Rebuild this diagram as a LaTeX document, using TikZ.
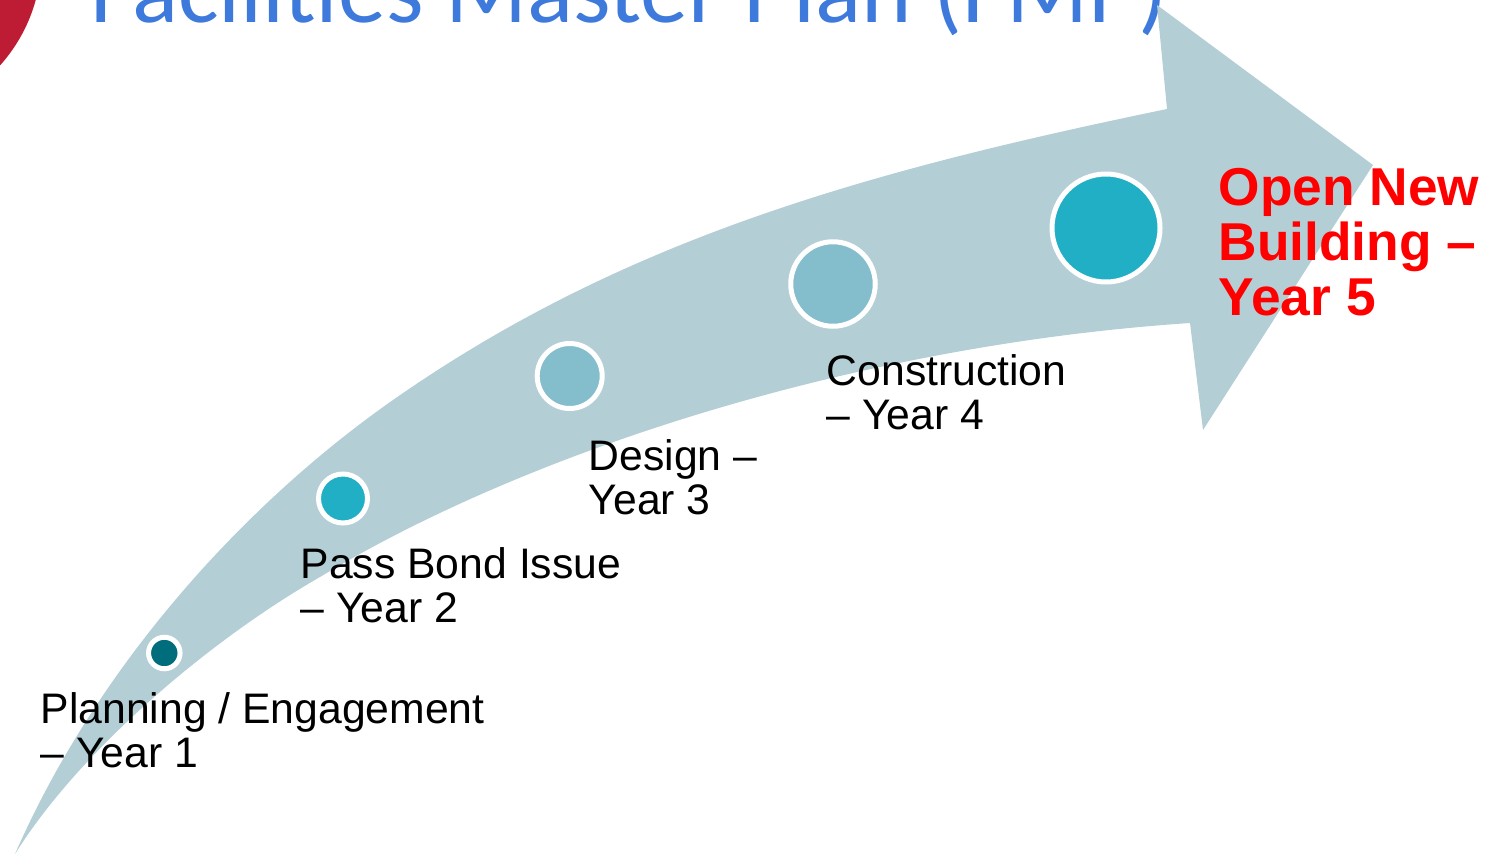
\documentclass[tikz,border=0pt]{standalone}
\usepackage{fontspec}
\setmainfont{Liberation Sans}
\newfontfamily\titlefont{Carlito}
\definecolor{band}{HTML}{B4CED5}
\definecolor{tealdark}{HTML}{006D7C}
\definecolor{tealmid}{HTML}{21AFC6}
\definecolor{teallight}{HTML}{84BDCC}
\definecolor{titleblue}{HTML}{3E7ADB}
\definecolor{crimson}{HTML}{BE1B34}
\tikzset{
  dot/.style={circle,draw=white,line width=5pt,inner sep=0pt,outer sep=0pt},
  lbl/.style={anchor=north west,inner sep=0pt,align=left,font=\fontsize{42.7}{44}\selectfont,text=black},
}
\begin{document}
\begin{tikzpicture}[x=1pt,y=-1pt]
\useasboundingbox (0,0) rectangle (1490,854);
\clip (0,0) rectangle (1490,854);
\fill[crimson] (-121,-43) circle (162.5pt);
\node[anchor=base west,inner sep=0pt,text=titleblue,font=\titlefont\fontsize{96}{96}\selectfont] (title) at (90.5,22.5) {Facilities Master Plan (FMP)};
\fill[band] (15,854) .. controls (100,660) and (250,500) .. (393,400)
  .. controls (623,239) and (867,171) .. (1167,109)
  -- (1157,5) -- (1373,165) -- (1203,430) -- (1190,323)
  .. controls (860,345) and (530,450) .. (320,577)
  .. controls (210,640) and (80,750) .. (15,854) -- cycle;
\node[dot,fill=tealdark,minimum size=31.5pt] (d1) at (164.3,653) {};
\node[dot,fill=tealmid,minimum size=49pt] (d2) at (343,498.5) {};
\node[dot,fill=teallight,minimum size=65pt] (d3) at (569.7,376) {};
\node[dot,fill=teallight,minimum size=84.5pt] (d4) at (833,284) {};
\node[dot,fill=tealmid,minimum size=108pt] (d5) at (1106,228) {};
\node[lbl] (t1) at (40.5,692.5) {Planning / Engagement\\– Year 1};
\node[lbl] (t2) at (300.5,547.5) {Pass Bond Issue\\– Year 2};
\node[lbl] (t3) at (588.5,439) {Design –\\Year 3};
\node[lbl] (t4) at (826.5,354.5) {Construction\\– Year 4};
\node[anchor=north west,inner sep=0pt,align=left,text=red,font=\bfseries\fontsize{53.3}{55}\selectfont] (t5) at (1218.5,168) {Open New\\Building –\\Year 5};
\end{tikzpicture}
\end{document}
